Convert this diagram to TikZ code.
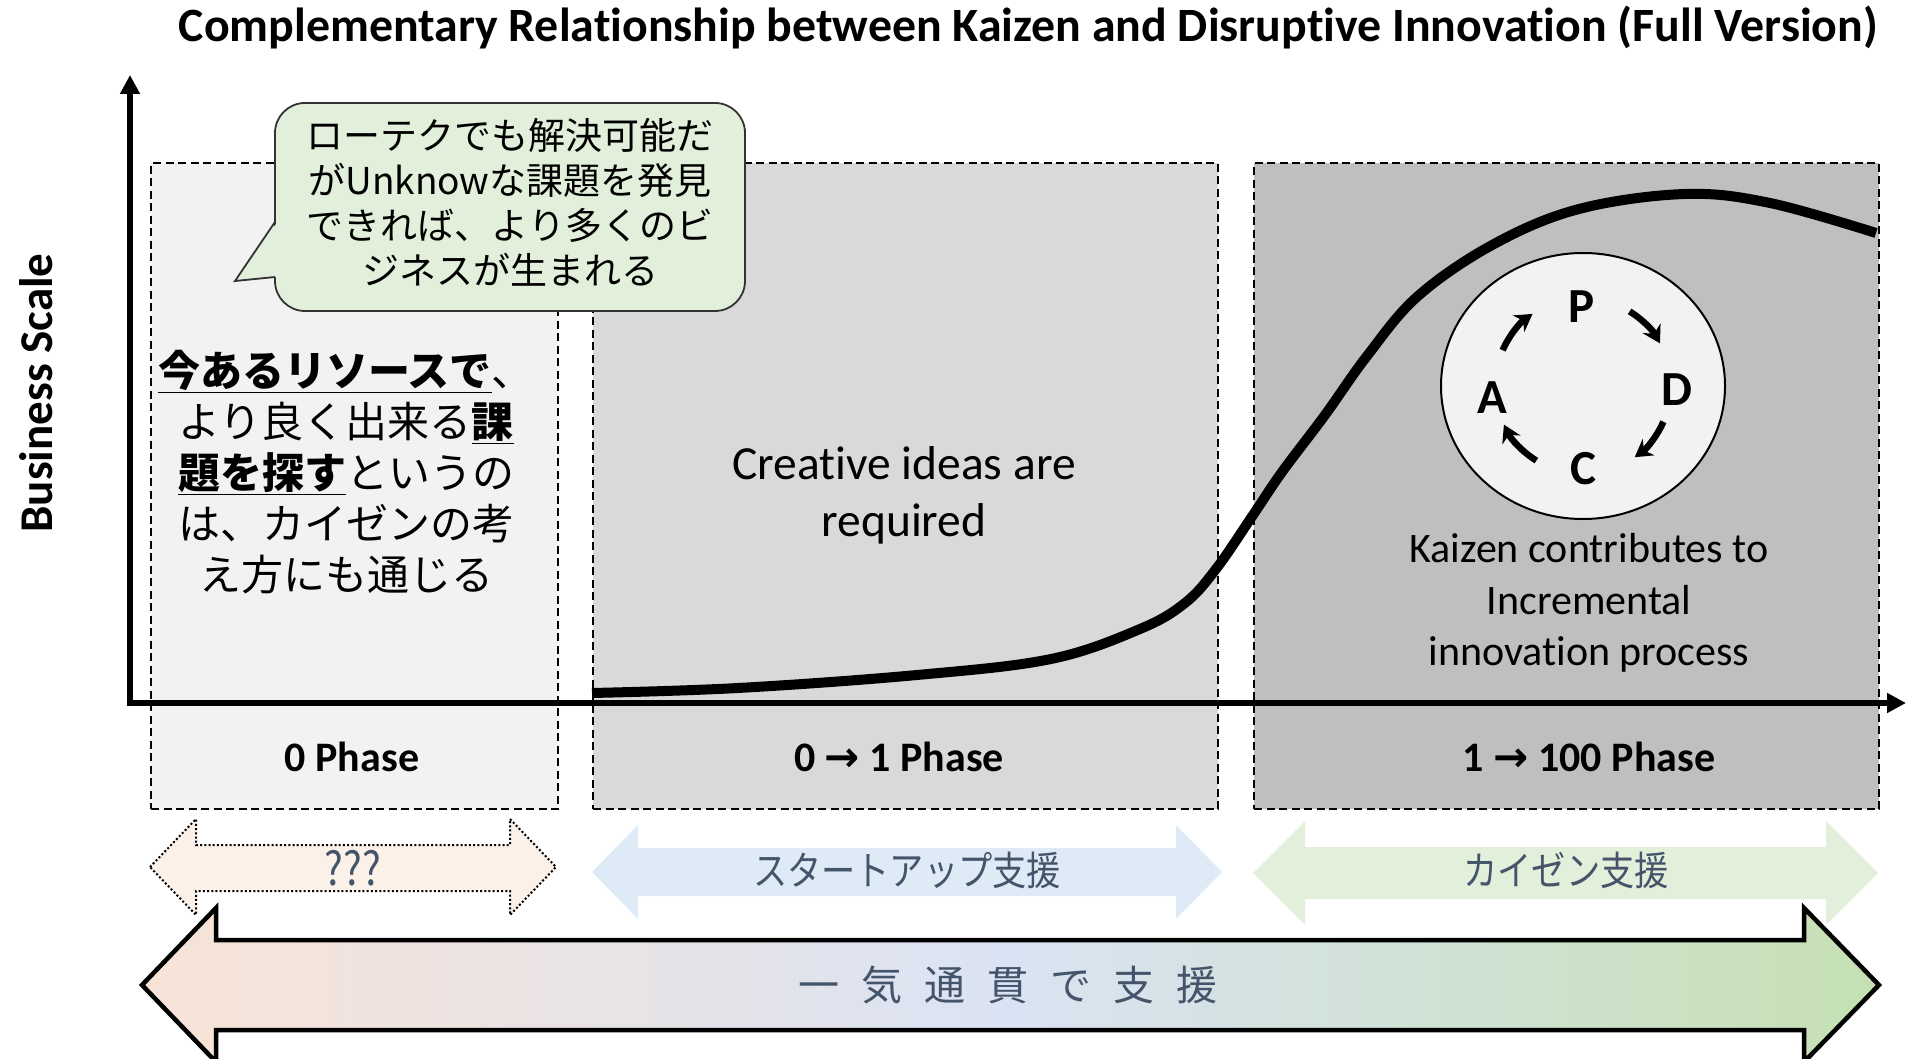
\documentclass[tikz,border=0pt]{standalone}
\usepackage{graphicx}
\usepackage{fontspec}
\setmainfont{Carlito}[Ligatures=NoCommon]
\newfontfamily\jp{Noto Sans CJK JP}
\newfontfamily\dv{DejaVu Sans}
\usetikzlibrary{arrows.meta,calc,shapes.geometric}
\definecolor{boxA}{HTML}{F2F2F2}
\definecolor{boxB}{HTML}{D9D9D9}
\definecolor{boxC}{HTML}{BFBFBF}
\definecolor{callfill}{HTML}{E2EFDA}
\definecolor{qfill}{HTML}{FBF1E8}
\definecolor{sfill}{HTML}{DEEBF7}
\definecolor{kfill}{HTML}{E2EFDA}
\definecolor{gradL}{HTML}{F8E3D6}
\definecolor{gradM}{HTML}{DAE3F3}
\definecolor{gradR}{HTML}{C5E0B4}
\definecolor{slate}{HTML}{44546A}
\newcommand\gapj{\hspace{22pt}}
\begin{document}
\begin{tikzpicture}[x=1pt,y=-1pt,
  phasebox/.style={draw=black, line width=2.2pt, dash pattern=on 8pt off 4.5pt, inner sep=0pt, anchor=north west},
  axisline/.style={line width=6pt, -{Triangle[length=19pt,width=19pt]}},
  scurve/.style={line width=10pt},
  bodytxt/.style={align=center, inner sep=0pt, text=black},
  phaselbl/.style={font=\bfseries\fontsize{42}{50}\selectfont, inner sep=0pt},
  pdcaletter/.style={font=\bfseries\fontsize{49}{50}\selectfont, inner sep=0pt},
  cyc/.style={line width=6.5pt, -{Stealth[length=17pt,width=20pt]}},
  armlabel/.style={text=slate, inner sep=0pt, font=\jp\fontsize{38}{44}\selectfont},
]
\useasboundingbox (0,0) rectangle (1906,1059);
\clip (0,0) rectangle (1906,1059);

% title
\node[anchor=east, inner sep=0pt] (title) at (1878,28)
  {\resizebox{1699pt}{!}{\bfseries\fontsize{38}{40}\selectfont Complementary Relationship between Kaizen and Disruptive Innovation (Full Version)}};

% y label
\node[rotate=90, inner sep=0pt, font=\bfseries\fontsize{47}{50}\selectfont] (ylab) at (36,393) {Business Scale};

% phase boxes
\node[phasebox, fill=boxA, minimum width=407pt, minimum height=646pt] (b0) at (150,162) {};
\node[phasebox, fill=boxB, minimum width=625pt, minimum height=646pt] (b1) at (592,162) {};
\node[phasebox, fill=boxC, minimum width=625pt, minimum height=646pt] (b2) at (1253,162) {};

% S-curve
\draw[scurve] plot[smooth, tension=0.6] coordinates {(592,693) (738,688) (917,675) (1051,659) (1140,629) (1185,603) (1216,569) (1253,515) (1282,472) (1325,415) (1367,356) (1418,296) (1494,244) (1579,209) (1685,194) (1770,203) (1876,233)};

% axes
\coordinate (O) at (130,703);
\coordinate (Ox) at (127,703);
\coordinate (ytop) at (130,75);
\coordinate (xend) at (1906,703);
\draw[axisline] (O) -- (ytop);
\draw[axisline] (Ox) -- (xend);

% callout
\node[draw=black!80, fill=callfill, rounded corners=30pt, line width=1.8pt, minimum width=470pt, minimum height=208pt, inner sep=0pt] (callout) at (510,207) {};
\fill[callfill] (277.5,222) -- (235,281) -- (277.5,277) -- cycle;
\draw[draw=black!80, line width=1.8pt, line join=miter] (275,222) -- (235,281) -- (275,277);
\node[bodytxt, font=\jp\fontsize{37}{45}\selectfont] (calltext) at (510,202)
  {ローテクでも解決可能だ\\がUnknowな課題を発見\\できれば、より多くのビ\\ジネスが生まれる};

% left text
\node[bodytxt, font=\jp\fontsize{42}{51}\selectfont] (lefttext) at (346,472)
  {\underline{\textbf{今あるリソースで}}、\\より良く出来る\underline{\textbf{課}}\\\underline{\textbf{題を探す}}というの\\は、カイゼンの考\\え方にも通じる};

% middle text
\node[bodytxt, font=\fontsize{47.5}{57}\selectfont] (creative) at (904,495) {Creative ideas are\\required};

% PDCA
\node[ellipse, draw=black, line width=2pt, fill=boxA, minimum width=284pt, minimum height=266pt, inner sep=0pt] (pdca) at (1583,386) {};
\node[pdcaletter] (P) at (1582,307) {P};
\node[pdcaletter] (D) at (1677,390) {D};
\node[pdcaletter] (C) at (1583,469) {C};
\node[pdcaletter] (A) at (1492,398) {A};
\coordinate (pd1) at ($(pdca.center)+(-58:88)$);
\coordinate (dc1) at ($(pdca.center)+(24:88)$);
\coordinate (ca1) at ($(pdca.center)+(122:88)$);
\coordinate (ap1) at ($(pdca.center)+(204:88)$);
\draw[cyc] (pd1) arc[start angle=-58, end angle=-29, radius=88];
\draw[cyc] (dc1) arc[start angle=24, end angle=54, radius=88];
\draw[cyc] (ca1) arc[start angle=122, end angle=154, radius=88];
\draw[cyc] (ap1) arc[start angle=204, end angle=235, radius=88];

\node[bodytxt, font=\fontsize{42}{51.5}\selectfont] (kaizen) at (1589,603) {Kaizen contributes to\\Incremental\\innovation process};

% phase labels
\node[phaselbl] (ph0) at (352,757) {0 Phase};
\node[phaselbl] (ph1) at (899,757) {0 {\dv\bfseries →} 1 Phase};
\node[phaselbl] (ph2) at (1589,757) {1 {\dv\bfseries →} 100 Phase};

% support arrows
\path[fill=qfill, draw=black, line width=2pt, dash pattern=on 2pt off 2.2pt, line join=miter]
  (150,867) -- (196,819) -- (196,845) -- (510,845) -- (510,819) -- (556,867) -- (510,915) -- (510,891) -- (196,891) -- (196,915) -- cycle;
\path[fill=sfill]
  (592,872) -- (638,825) -- (638,848) -- (1176,848) -- (1176,825) -- (1222,872) -- (1176,919) -- (1176,896) -- (638,896) -- (638,919) -- cycle;
\path[fill=kfill]
  (1253,873) -- (1305,821) -- (1305,847) -- (1826,847) -- (1826,821) -- (1878,873) -- (1826,925) -- (1826,899) -- (1305,899) -- (1305,925) -- cycle;
\node[armlabel, font=\jp\fontsize{44}{48}\selectfont] (qq) at (353,868) {\scalebox{0.9}[1.05]{???}};
\node[armlabel] (startup) at (907,870) {\scalebox{0.9}[1.05]{スタートアップ支援}};
\node[armlabel] (kaizensup) at (1566,870) {\scalebox{0.9}[1.05]{カイゼン支援}};

% big arrow
\path[draw=black, line width=4.5pt, line join=miter, left color=gradL, right color=gradR, middle color=gradM]
  (142,985) -- (216,908) -- (216,940) -- (1804,940) -- (1804,908) -- (1879,985) -- (1804,1062) -- (1804,1030) -- (216,1030) -- (216,1062) -- cycle;
\node[text=slate, inner sep=0pt, font=\jp\fontsize{41}{44}\selectfont] (ikki) at (1008,985)
  {一\gapj 気\gapj 通\gapj 貫\gapj で\gapj 支\gapj 援};
\end{tikzpicture}
\end{document}
